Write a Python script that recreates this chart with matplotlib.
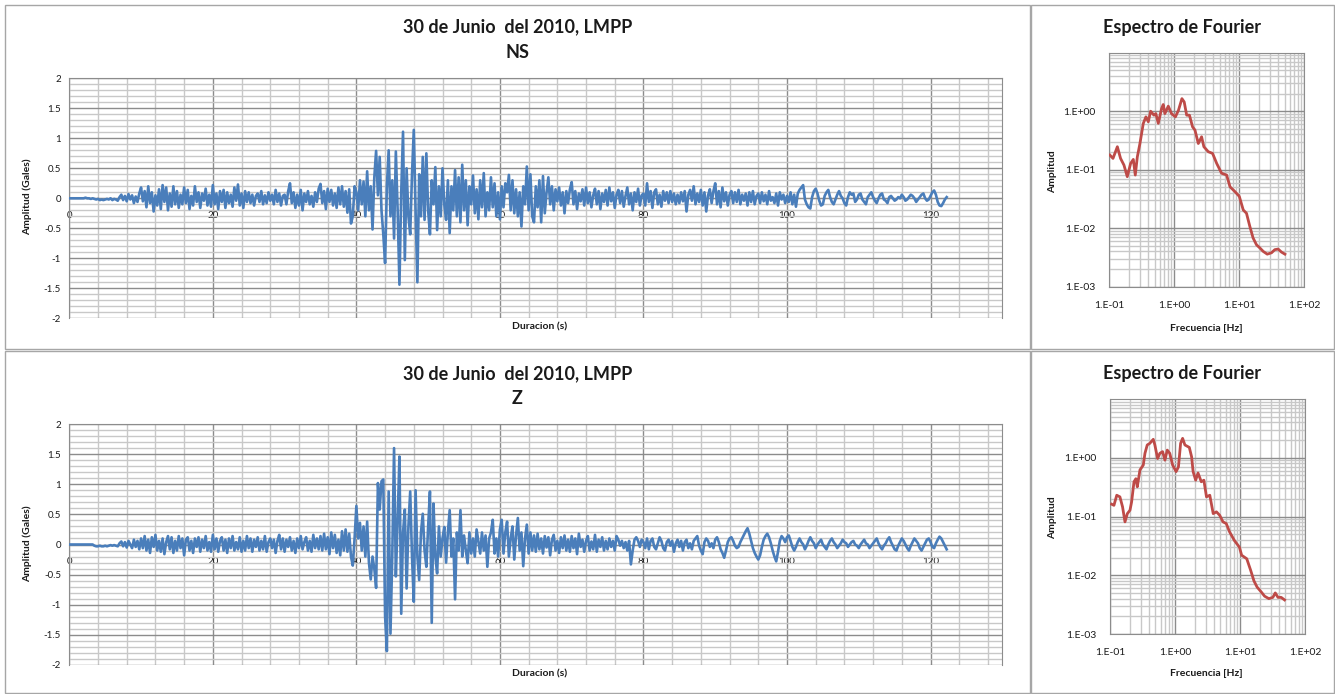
import numpy as np
import matplotlib
matplotlib.use("Agg")
import matplotlib.pyplot as plt
from matplotlib.patches import Rectangle
from matplotlib.ticker import MultipleLocator, LogLocator, NullFormatter

plt.rcParams['font.family'] = ['Lato', 'DejaVu Sans']
plt.rcParams['axes.unicode_minus'] = False

# registro del 30 de junio del 2010, estacion LMPP (paso de 0.25 s)
dt = 0.25

ns = [
    0.00, 0.00, 0.00, 0.00, 0.00, 0.00, 0.00, 0.00, 0.00, 0.01, 0.00, 0.00, -0.01, 0.00, -0.01, -0.02, -0.01, -0.03, -0.02, -0.03,
    -0.02, -0.01, -0.02, 0.00, -0.03, -0.01, -0.02, -0.04, 0.02, 0.06, -0.03, 0.04, -0.05, 0.07, -0.02, 0.05, -0.08, 0.03, -0.06, 0.08,
    0.18, -0.05, 0.12, -0.15, 0.20, -0.08, 0.10, -0.22, 0.05, -0.12, 0.15, -0.18, 0.22, -0.06, 0.18, -0.20, 0.08, -0.14, 0.20, -0.10,
    0.12, -0.16, 0.06, -0.10, 0.18, -0.08, 0.14, -0.18, 0.04, -0.12, 0.20, -0.06, 0.10, -0.16, 0.08, -0.04, 0.16, -0.12, 0.06, -0.14,
    0.22, -0.10, 0.08, -0.18, 0.12, -0.06, 0.14, -0.16, 0.10, -0.08, 0.06, -0.14, 0.18, -0.04, 0.23, -0.12, 0.08, -0.16, 0.12, -0.06,
    0.10, -0.08, 0.06, -0.12, 0.04, 0.08, -0.06, 0.12, -0.10, 0.05, -0.08, 0.10, -0.04, 0.06, -0.10, 0.14, -0.06, 0.08, -0.12, 0.04,
    0.06, -0.10, 0.12, 0.25, -0.08, 0.10, -0.16, 0.06, -0.12, 0.14, -0.20, 0.08, -0.06, 0.12, -0.10, 0.04, -0.14, 0.10, -0.06, 0.16,
    0.24, -0.08, 0.12, -0.18, 0.16, -0.06, 0.14, -0.12, 0.08, -0.16, 0.18, -0.10, 0.20, -0.14, 0.12, -0.24, 0.15, -0.42, -0.30, 0.20,
    0.10, -0.20, 0.30, -0.10, 0.28, -0.30, 0.45, -0.20, 0.20, -0.52, 0.35, 0.79, 0.05, 0.69, -0.20, -0.60, -1.08, 0.20, 0.80, -0.30,
    0.30, -0.67, 0.78, -0.20, -1.44, 0.10, 1.11, -1.03, 0.50, -0.30, -0.60, 0.40, 1.14, -0.20, -1.40, 0.40, -0.30, 0.69, -0.36, 0.75,
    -0.20, -0.60, 0.30, -0.10, 0.52, -0.53, 0.20, -0.30, 0.50, -0.10, -0.36, 0.30, -0.58, 0.20, -0.20, 0.47, -0.30, 0.35, -0.40, 0.56,
    -0.20, 0.30, -0.45, 0.20, -0.10, 0.38, -0.25, 0.15, -0.35, 0.30, -0.15, 0.42, -0.30, 0.10, -0.20, 0.35, -0.15, 0.25, -0.30, 0.10,
    -0.35, 0.20, -0.15, 0.25, 0.10, 0.39, -0.20, 0.30, -0.25, 0.15, -0.30, 0.10, -0.47, 0.20, -0.10, 0.53, -0.20, 0.40, -0.30, -0.40,
    0.20, -0.15, 0.30, -0.40, 0.37, -0.25, 0.10, 0.35, -0.10, 0.20, -0.20, 0.15, -0.05, 0.18, -0.12, 0.10, -0.25, 0.12, -0.08, 0.15,
    0.27, -0.10, 0.12, -0.18, 0.08, -0.05, 0.15, -0.12, 0.18, -0.08, 0.10, -0.15, 0.05, 0.16, -0.10, 0.12, -0.18, 0.08, -0.06, 0.14,
    -0.12, 0.18, -0.05, 0.10, -0.16, 0.06, 0.14, -0.08, 0.12, -0.14, 0.04, 0.18, -0.10, 0.08, -0.20, 0.10, -0.06, 0.16, -0.12, 0.05,
    0.08, -0.12, 0.25, -0.06, 0.12, -0.16, 0.10, 0.15, -0.10, 0.06, -0.14, 0.12, -0.04, 0.10, -0.08, 0.12, -0.06, 0.08, -0.10, 0.06,
    -0.08, 0.10, -0.05, 0.12, -0.22, 0.06, 0.14, -0.04, 0.20, -0.10, 0.08, -0.06, 0.14, -0.12, 0.10, -0.22, 0.05, 0.15, -0.08, 0.12,
    0.25, -0.10, 0.12, -0.15, 0.18, -0.05, 0.10, -0.12, 0.06, 0.12, -0.08, 0.10, -0.06, 0.14, -0.10, 0.06, -0.04, 0.08, -0.12, 0.10,
    -0.06, 0.12, -0.10, 0.04, 0.08, -0.08, 0.10, -0.05, 0.06, -0.10, 0.12, -0.04, 0.02, -0.08, 0.08, -0.12, 0.10, -0.02, 0.06, -0.08,
    0.04, -0.06, 0.10, -0.10, 0.06, -0.14, 0.08, 0.14, 0.18, 0.22, -0.02, -0.10, -0.15, -0.17, 0.02, 0.12, 0.16, 0.08, -0.04, -0.12,
    -0.10, 0.04, 0.10, 0.14, 0.02, -0.06, -0.10, -0.02, 0.06, 0.12, 0.04, 0.00, -0.08, -0.12, 0.02, 0.10, 0.06, 0.08, -0.06, -0.02,
    0.06, 0.08, -0.02, -0.06, -0.10, 0.02, 0.06, 0.10, 0.02, -0.04, -0.08, 0.00, 0.06, 0.08, -0.02, -0.04, -0.08, 0.02, 0.04, 0.00,
    -0.04, -0.02, 0.02, 0.00, 0.06, 0.02, -0.04, -0.02, 0.02, 0.06, 0.04, 0.00, -0.06, -0.02, 0.02, 0.06, 0.08, 0.00, -0.04, -0.02,
    0.04, 0.10, 0.13, 0.06, -0.06, -0.12, -0.13, -0.08, -0.02, 0.02,
]

z = [
    0.00, 0.00, 0.00, 0.00, 0.00, 0.00, 0.00, 0.00, 0.00, 0.00, 0.00, 0.00, 0.00, 0.00, -0.02, -0.03, -0.03, -0.02, -0.03, -0.03,
    -0.02, -0.03, -0.02, -0.01, -0.02, -0.01, -0.02, -0.03, 0.02, 0.05, -0.03, 0.04, -0.05, 0.06, 0.00, -0.06, 0.08, -0.04, 0.06, -0.08,
    0.10, -0.06, 0.14, -0.10, 0.08, -0.14, 0.12, -0.04, 0.16, -0.10, 0.06, -0.12, 0.10, -0.16, 0.04, 0.14, -0.08, 0.12, -0.14, 0.06,
    -0.10, 0.14, -0.06, 0.10, -0.18, 0.08, 0.12, -0.10, 0.06, -0.14, 0.10, -0.04, 0.12, -0.12, 0.08, -0.06, 0.14, -0.10, 0.04, -0.12,
    0.16, -0.08, 0.10, -0.12, 0.06, 0.12, -0.10, 0.08, -0.14, 0.10, -0.06, 0.14, -0.10, 0.04, -0.08, 0.12, -0.12, 0.06, -0.10, 0.14,
    -0.06, 0.10, -0.12, 0.08, -0.04, 0.12, -0.10, 0.06, -0.08, 0.14, -0.12, 0.04, 0.10, -0.06, 0.08, -0.14, 0.06, 0.16, -0.08, 0.10,
    -0.12, 0.08, -0.04, 0.12, -0.10, 0.06, -0.14, 0.10, -0.06, 0.14, -0.08, 0.04, 0.12, -0.10, 0.06, -0.12, 0.16, -0.06, 0.10, -0.08,
    0.14, -0.10, 0.18, -0.08, 0.12, -0.16, 0.20, -0.06, 0.16, -0.14, 0.08, -0.18, 0.22, -0.10, 0.25, -0.12, 0.18, -0.20, -0.35, 0.10,
    0.64, 0.10, 0.36, -0.10, 0.30, -0.20, 0.38, -0.30, -0.58, -0.20, -0.40, -0.72, 1.02, 0.58, 1.05, 1.08, -1.19, -1.77, 0.88, -1.48,
    -0.20, 1.60, -0.53, 0.40, 1.46, -1.15, 0.20, 0.58, -0.73, 0.30, 0.88, -0.20, -0.95, 0.90, -0.20, -0.59, 0.20, 0.51, -0.10, -0.37,
    0.30, 0.88, -1.30, 0.68, -0.20, -0.48, 0.30, -0.20, 0.10, 0.29, -0.30, 0.20, 0.57, -0.20, 0.10, -0.91, 0.20, -0.10, 0.57, -0.20,
    0.15, -0.10, -0.31, 0.20, -0.15, 0.10, -0.20, 0.25, 0.05, -0.15, 0.20, -0.10, 0.15, -0.37, 0.10, 0.20, 0.41, -0.15, 0.10, -0.20,
    0.25, 0.41, -0.15, 0.20, 0.38, -0.20, 0.10, 0.30, -0.25, 0.15, 0.44, -0.10, 0.20, -0.36, 0.10, 0.33, -0.15, 0.20, -0.10, 0.15,
    -0.12, 0.18, -0.08, 0.10, -0.15, 0.14, -0.05, 0.12, -0.18, 0.08, 0.16, -0.10, 0.06, -0.14, 0.12, -0.06, 0.15, -0.10, 0.08, -0.12,
    0.14, -0.06, 0.10, -0.16, 0.18, -0.04, 0.08, -0.12, 0.06, 0.14, -0.10, 0.05, -0.08, 0.16, -0.12, 0.08, -0.04, 0.12, -0.10, 0.06,
    -0.08, 0.10, -0.04, 0.06, -0.10, 0.14, 0.08, -0.02, 0.06, -0.06, 0.04, -0.10, 0.06, -0.33, -0.10, 0.08, 0.12, 0.06, -0.04, 0.08,
    0.04, -0.06, 0.10, -0.08, 0.06, 0.10, -0.04, -0.08, 0.02, 0.12, 0.06, -0.06, -0.10, 0.04, 0.08, -0.02, 0.06, -0.12, 0.02, 0.08,
    -0.04, 0.06, -0.10, 0.04, 0.08, -0.06, 0.02, -0.08, 0.06, 0.10, 0.14, -0.02, -0.10, -0.16, 0.04, 0.10, 0.06, -0.04, 0.02, -0.06,
    0.08, 0.12, 0.04, -0.08, -0.14, -0.22, -0.10, 0.04, 0.10, 0.12, 0.06, -0.02, -0.06, -0.04, 0.04, 0.10, 0.16, 0.22, 0.27, 0.18,
    0.06, -0.06, -0.14, -0.20, -0.25, -0.18, -0.04, 0.08, 0.14, 0.18, 0.12, 0.02, -0.10, -0.20, -0.28, -0.12, 0.06, 0.14, 0.10, 0.04,
    0.12, 0.15, 0.06, -0.04, -0.10, -0.04, 0.04, 0.10, 0.04, 0.00, -0.08, -0.02, 0.06, 0.12, 0.06, 0.02, -0.06, 0.00, 0.04, 0.08,
    0.00, -0.04, -0.08, 0.00, 0.06, 0.10, 0.04, 0.00, -0.06, -0.02, 0.02, 0.08, 0.04, 0.02, -0.04, 0.00, 0.04, 0.06, 0.00, -0.02,
    -0.06, 0.00, 0.04, 0.08, 0.02, 0.00, -0.06, -0.02, 0.02, 0.06, 0.10, 0.02, -0.04, -0.08, -0.02, 0.02, 0.08, 0.12, 0.04, -0.02,
    -0.08, -0.10, -0.02, 0.04, 0.10, 0.06, 0.00, -0.06, -0.10, -0.02, 0.04, 0.10, 0.06, 0.02, -0.06, -0.10, -0.04, 0.02, 0.08, 0.10,
    0.04, -0.04, -0.06, 0.02, 0.08, 0.13, 0.10, 0.04, -0.02, -0.08,
]

# espectros de Fourier (frecuencia en Hz, amplitud)
f_ns = [0.102, 0.114, 0.133, 0.149, 0.168, 0.189, 0.213, 0.234, 0.251, 0.270, 0.296, 0.333, 0.366, 0.398,
        0.432, 0.486, 0.520, 0.567, 0.637, 0.676, 0.716, 0.808, 0.905, 1.04, 1.16, 1.31, 1.42, 1.55, 1.71,
        1.91, 2.08, 2.34, 2.63, 2.85, 3.33, 3.88, 4.49, 5.34, 6.38, 7.2, 8.6, 10.0, 11.5, 12.9, 14.5, 16.3,
        18.4, 20.7, 23.4, 26.9, 31.3, 35.2, 39.6, 44.6, 50.3]
a_ns = [0.178, 0.156, 0.247, 0.156, 0.120, 0.076, 0.128, 0.150, 0.081, 0.166, 0.280, 0.616, 0.800, 0.660,
        1.00, 0.855, 0.910, 0.620, 1.11, 1.30, 0.910, 1.22, 0.910, 0.800, 1.04, 1.64, 1.44, 0.855, 0.855,
        0.540, 0.475, 0.280, 0.365, 0.247, 0.203, 0.190, 0.128, 0.087, 0.081, 0.051, 0.042, 0.035, 0.0205,
        0.018, 0.0108, 0.0068, 0.0052, 0.0046, 0.0040, 0.0036, 0.0038, 0.0043, 0.0044, 0.0039, 0.0036]

f_z = [0.106, 0.115, 0.127, 0.142, 0.156, 0.170, 0.185, 0.203, 0.215, 0.234, 0.250, 0.263, 0.289, 0.325,
       0.345, 0.374, 0.410, 0.463, 0.490, 0.540, 0.585, 0.644, 0.700, 0.760, 0.830, 0.920, 1.04, 1.13,
       1.22, 1.31, 1.42, 1.66, 1.80, 1.90, 2.08, 2.26, 2.54, 2.78, 3.05, 3.43, 3.87, 4.34, 4.87, 5.47,
       6.14, 6.9, 8.2, 9.8, 10.6, 12.7, 14.6, 16.4, 18.3, 21.2, 23.9, 27.8, 32.0, 34.9, 38.4, 43.0, 48.5]
a_z = [0.162, 0.155, 0.230, 0.216, 0.146, 0.081, 0.112, 0.128, 0.177, 0.390, 0.440, 0.320, 0.620, 0.750,
       1.19, 1.65, 1.76, 2.06, 1.65, 0.970, 1.19, 1.27, 0.910, 1.35, 1.19, 0.750, 0.580, 0.700,
       1.76, 2.14, 1.65, 1.50, 1.04, 0.580, 0.415, 0.550, 0.390, 0.415, 0.216, 0.230, 0.112, 0.120, 0.105,
       0.081, 0.076, 0.055, 0.039, 0.030, 0.0219, 0.0191, 0.0121, 0.0080, 0.0063, 0.0052, 0.0044, 0.0040,
       0.0042, 0.0050, 0.0042, 0.0042, 0.0038]

W, H = 1335, 694
AZUL = '#4a7ebb'
ROJO = '#be4b48'
GRIS = '#8c8c8c'
GRIS_CLARO = '#c8c8c8'
TXT = '#1a1a1a'

fig = plt.figure(figsize=(W / 100, H / 100), dpi=100)


def caja(x0, y0, x1, y1):
    # pixeles (origen arriba a la izquierda) -> fraccion de figura
    return [x0 / W, 1 - y1 / H, (x1 - x0) / W, (y1 - y0) / H]


def texto(x, y, s, **kw):
    fig.text(x / W, 1 - y / H, s, ha='center', va='center', color=TXT, **kw)


# marcos de cada grafico
for x0, y0, x1, y1 in [(5, 5, 1030, 349), (1031, 5, 1334, 349),
                       (5, 351, 1030, 693), (1031, 351, 1334, 693)]:
    fig.add_artist(Rectangle((x0 / W, 1 - y1 / H), (x1 - x0) / W, (y1 - y0) / H,
                             transform=fig.transFigure, fill=False, ec='#a6a6a6', lw=1))


def traza(box, y, comp, dy):
    ax = fig.add_axes(caja(*box))
    t = np.arange(len(y)) * dt
    ax.plot(t, y, color=AZUL, lw=1.9, zorder=3)
    ax.set_xlim(0, 130)
    ax.set_ylim(-2, 2)
    ax.xaxis.set_major_locator(MultipleLocator(20))
    ax.xaxis.set_minor_locator(MultipleLocator(4))
    ax.yaxis.set_major_locator(MultipleLocator(0.5))
    ax.yaxis.set_minor_locator(MultipleLocator(0.1))
    ax.yaxis.set_major_formatter(lambda v, p: f'{v:g}')
    ax.grid(which='minor', color=GRIS_CLARO, lw=1)
    ax.grid(which='major', color=GRIS, lw=1)
    ax.set_axisbelow(True)
    for s in ax.spines.values():
        s.set_color(GRIS)
    ax.spines['bottom'].set_position(('data', 0))
    ax.tick_params(which='both', length=0, labelsize=7, labelcolor=TXT)
    ax.tick_params(axis='x', pad=9)
    ax.tick_params(axis='y', pad=6)

    texto(517.5, 27 + dy, '30 de Junio  del 2010, LMPP', fontsize=13, weight='bold')
    texto(517.5, 52 + dy, comp, fontsize=13, weight='bold')
    texto(540, 327 + dy, 'Duracion (s)', fontsize=7.5, weight='bold')
    texto(27, 197 + dy, 'Amplitud (Gales)', fontsize=7.5, weight='bold', rotation=90)


def espectro(box, f, a, dy):
    ax = fig.add_axes(caja(*box))
    ax.loglog(f, a, color=ROJO, lw=2.0, zorder=3)
    ax.set_xlim(0.1, 100)
    ax.set_ylim(1e-3, 10)
    ax.set_xticks([0.1, 1, 10, 100], ['1.E-01', '1.E+00', '1.E+01', '1.E+02'])
    ax.set_yticks([1e-3, 1e-2, 1e-1, 1], ['1.E-03', '1.E-02', '1.E-01', '1.E+00'])
    for eje in (ax.xaxis, ax.yaxis):
        eje.set_minor_locator(LogLocator(subs=np.arange(2, 10)))
        eje.set_minor_formatter(NullFormatter())
    ax.grid(which='minor', color=GRIS_CLARO, lw=1)
    ax.grid(which='major', color=GRIS, lw=1)
    ax.set_axisbelow(True)
    for s in ax.spines.values():
        s.set_color(GRIS)
    ax.tick_params(which='both', length=0, labelsize=7.5, labelcolor=TXT, pad=10)

    texto(1182, 27 + dy, 'Espectro de Fourier', fontsize=13, weight='bold')
    texto(1206, 328 + dy, 'Frecuencia [Hz]', fontsize=7.5, weight='bold')
    texto(1053, 172 + dy, 'Amplitud', fontsize=7.5, weight='bold', rotation=90)


traza((69.3, 78.3, 1002.3, 318.3), ns, 'NS', 0)
traza((69.3, 424, 1002.3, 665), z, 'Z', 347)
espectro((1109.3, 52.7, 1304.3, 286.7), f_ns, a_ns, 0)
espectro((1110, 399, 1305, 634), f_z, a_z, 346)

fig.savefig('out.png', dpi=100, facecolor='white')
